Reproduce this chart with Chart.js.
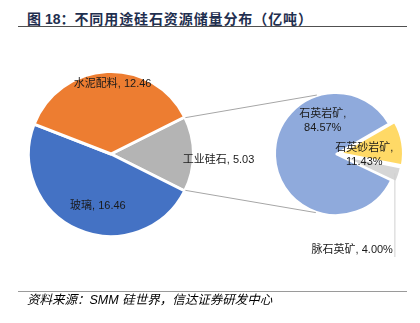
<!DOCTYPE html>
<html>
<head>
<meta charset="utf-8">
<script src="https://cdn.jsdelivr.net/npm/chart.js@4"></script>
<style>
  body { margin: 0; background: #fff; }
  #wrap { position: relative; width: 420px; height: 323px; background: #fff; overflow: hidden; }
  #wrap canvas { position: absolute; left: 0; top: 0; }
  .title { position: absolute; left: 27px; top: 8px; font: bold 14px "Liberation Sans", "Noto Sans CJK SC", sans-serif; color: #1f2f4f; white-space: nowrap; }
  .title span { letter-spacing: 0.9px; }
  .rule { position: absolute; left: 18px; width: 389px; }
  .rule.top { top: 26px; height: 0; border-top: 1.5px solid #505050; }
  .rule.bottom { top: 291px; height: 0; border-top: 1px solid #9a9a9a; }
  .source { position: absolute; left: 27px; top: 289px; font: italic 12.5px "Liberation Sans", "Noto Sans CJK SC", sans-serif; color: #000; white-space: nowrap; }
</style>
</head>
<body>
<div id="wrap">
  <div class="title">图 18：<span>不同用途硅石资源储量分布（亿吨）</span></div>
  <div class="rule top"></div>
  <canvas id="pieMain" width="420" height="323"></canvas>
  <canvas id="pieSub" width="420" height="323"></canvas>
  <div class="rule bottom"></div>
  <div class="source">资料来源：SMM 硅世界，信达证券研发中心</div>
</div>
<script>
// main pie (亿吨), the split-out slice first
var mainLabels = ['工业硅石', '玻璃', '水泥配料'];
var mainValues = [5.03, 16.46, 12.46];
var mainColors = ['#b4b4b4', '#4472c4', '#ed7d31'];

// breakdown of 工业硅石 (%)
var subLabels = ['石英砂岩矿', '脉石英矿', '石英岩矿'];
var subValues = [11.43, 4.00, 84.57];
var subColors = ['#ffd966', '#d6d6d6', '#8faadc'];

var labelFont = '11px "Liberation Sans", "Noto Sans CJK SC", sans-serif';

function sum(a) { return a.reduce(function(s, v) { return s + v; }, 0); }

// label placement per slice: fraction of radius along mid angle + nudges
var mainPlace = [
  { f: 0.87, align: 'left', dy: 6 },
  { f: 0.69, dx: 10 },
  { f: 0.85, dx: 5 }
];
var subPlace = [
  { f: 0.47, dy: 6, wrap: true },
  { leader: true },
  { angle: -112, f: 0.58, wrap: true }
];

function drawLabels(chart, names, texts, place) {
  var ctx = chart.ctx;
  var arcs = chart.getDatasetMeta(0).data;
  ctx.save();
  ctx.font = labelFont;
  ctx.fillStyle = '#1a1a1a';
  ctx.textBaseline = 'middle';
  arcs.forEach(function(arc, i) {
    var p = place[i];
    var mid = p.angle !== undefined ? p.angle * Math.PI / 180 : (arc.startAngle + arc.endAngle) / 2;
    if (p.leader) {
      var r = arc.outerRadius;
      var lx = arc.x + Math.cos(mid) * r + 1;
      var ly = arc.y + Math.sin(mid) * r;
      ctx.strokeStyle = '#d0d0d0';
      ctx.lineWidth = 1;
      ctx.beginPath();
      ctx.moveTo(lx, ly);
      ctx.lineTo(lx, 257);
      ctx.stroke();
      ctx.textAlign = 'right';
      ctx.fillText(names[i] + ', ' + texts[i], lx - 2, 250);
      return;
    }
    var x = arc.x + Math.cos(mid) * arc.outerRadius * p.f + (p.dx || 0);
    var y = arc.y + Math.sin(mid) * arc.outerRadius * p.f + (p.dy || 0);
    ctx.textAlign = p.align || 'center';
    if (p.wrap) {
      ctx.fillText(names[i] + ',', x, y - 7);
      ctx.fillText(texts[i], x, y + 7);
    } else {
      ctx.fillText(names[i] + ', ' + texts[i], x, y);
    }
  });
  ctx.restore();
}

var mainTotal = sum(mainValues);
var mainChart = new Chart(document.getElementById('pieMain'), {
  type: 'pie',
  data: {
    labels: mainLabels,
    datasets: [{
      data: mainValues,
      backgroundColor: mainColors,
      borderColor: '#ffffff',
      borderWidth: 3
    }]
  },
  options: {
    responsive: false,
    animation: false,
    events: [],
    radius: 82.5,
    rotation: 90 - (mainValues[0] / mainTotal * 360) / 2,
    layout: { padding: { left: 19, right: 217, top: 62, bottom: 77 } },
    plugins: { legend: { display: false }, tooltip: { enabled: false } }
  },
  plugins: [{
    id: 'mainLabels',
    afterDraw: function(chart) {
      drawLabels(chart, mainLabels, mainValues.map(function(v) { return v.toFixed(2); }), mainPlace);
    }
  }]
});

var subChart = new Chart(document.getElementById('pieSub'), {
  type: 'pie',
  data: {
    labels: subLabels,
    datasets: [{
      data: subValues,
      backgroundColor: subColors,
      borderColor: '#ffffff',
      borderWidth: 2,
      offset: [18, 12, 0]
    }]
  },
  options: {
    responsive: false,
    animation: false,
    events: [],
    radius: 61,
    rotation: 60,
    layout: { padding: { left: 264, right: 12, top: 82, bottom: 97 } },
    plugins: { legend: { display: false }, tooltip: { enabled: false } }
  },
  plugins: [{
    id: 'subLabels',
    afterDraw: function(chart) {
      var ctx = chart.ctx;
      // connector lines from the split slice to the breakdown pie
      var g = mainChart.getDatasetMeta(0).data[0];
      var b = chart.getDatasetMeta(0).data[2];
      var gr = g.outerRadius - 1.5, br = b.outerRadius + 1;
      var ends = [[g.startAngle, 252], [g.endAngle, 109]];
      ctx.save();
      ctx.strokeStyle = '#a6a6a6';
      ctx.lineWidth = 1;
      ends.forEach(function(e) {
        var a2 = e[1] * Math.PI / 180;
        ctx.beginPath();
        ctx.moveTo(g.x + Math.cos(e[0]) * gr + 2, g.y + Math.sin(e[0]) * gr);
        ctx.lineTo(b.x + Math.cos(a2) * br, b.y + Math.sin(a2) * br);
        ctx.stroke();
      });
      ctx.restore();
      drawLabels(chart, subLabels, subValues.map(function(v) { return v.toFixed(2) + '%'; }), subPlace);
    }
  }]
});
</script>
</body>
</html>
